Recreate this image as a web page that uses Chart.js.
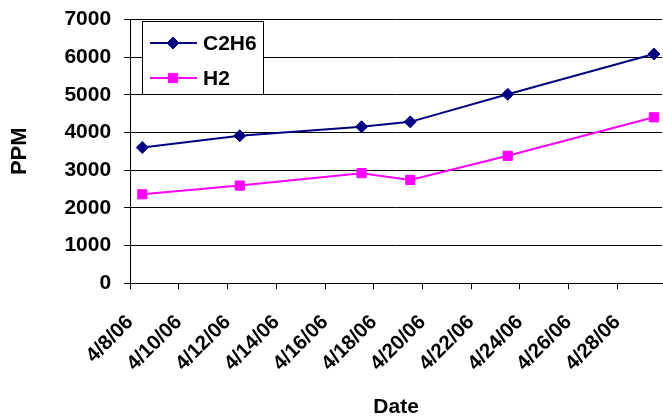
<!DOCTYPE html>
<html><head><meta charset="utf-8">
<script src="https://cdn.jsdelivr.net/npm/chart.js@4.4.1/dist/chart.umd.min.js"></script>
<style>html,body{margin:0;padding:0;background:#fff}#wrap{width:663px;height:418px}</style>
</head><body><div id="wrap"><canvas id="c" width="663" height="418"></canvas></div>
<script>
const sampleDates = ['2006-04-08T12:00','2006-04-12T12:00','2006-04-17T12:00','2006-04-19T12:00','2006-04-23T12:00','2006-04-29T12:00'];
const c2h6 = [3600, 3910, 4150, 4280, 5010, 6080];
const h2 = [2360, 2590, 2920, 2740, 3380, 4400];
const seriesNames = ['C2H6', 'H2'];
const yTicks = [0, 1000, 2000, 3000, 4000, 5000, 6000, 7000];
const axisStart = '2006-04-08T00:00';
const axisEnd = '2006-04-29T20:00';

const DAY = 86400000;
const t0 = Date.parse(axisStart + 'Z');
const toDay = s => (Date.parse(s + 'Z') - t0) / DAY;
const fmt = v => { const d = new Date(t0 + Math.round(v) * DAY); return (d.getUTCMonth()+1) + '/' + d.getUTCDate() + '/' + String(d.getUTCFullYear()).slice(2); };

const FONT = 'Arial, "Liberation Sans", sans-serif';

const legendPlugin = {
  id: 'boxLegend',
  afterDraw(chart) {
    const ctx = chart.ctx;
    const x0 = 142, y0 = 21, w = 121, h = 73;
    ctx.save();
    ctx.fillStyle = '#fff';
    ctx.fillRect(x0, y0, w, h);
    ctx.strokeStyle = '#000'; ctx.lineWidth = 1;
    ctx.strokeRect(x0 + 0.5, y0 + 0.5, w, h);
    chart.data.datasets.forEach((ds, i) => {
      const y = y0 + 22 + i * 35;
      ctx.strokeStyle = ds.borderColor; ctx.lineWidth = ds.borderWidth;
      ctx.beginPath(); ctx.moveTo(x0 + 8, y); ctx.lineTo(x0 + 55, y); ctx.stroke();
      ctx.fillStyle = ds.pointBackgroundColor;
      ctx.strokeStyle = ds.pointBorderColor;
      ctx.lineWidth = 1;
      Chart.helpers.drawPoint(ctx, {pointStyle: ds.pointStyle, rotation: 0, borderWidth: 1, radius: ds.pointRadius}, x0 + 31, y);
      ctx.fillStyle = '#000';
      ctx.font = 'bold 21px ' + FONT;
      ctx.textBaseline = 'middle'; ctx.textAlign = 'left';
      ctx.fillText(ds.label, x0 + 61, y + 1);
    });
    ctx.restore();
  }
};

new Chart(document.getElementById('c'), {
  type: 'line',
  data: {
    datasets: [
      { label: seriesNames[0], data: sampleDates.map((d, i) => ({x: toDay(d), y: c2h6[i]})),
        borderColor: '#000080', backgroundColor: '#000080', borderWidth: 2,
        pointStyle: 'rectRot', pointRadius: 6, pointBackgroundColor: '#000080', pointBorderColor: '#000080', pointBorderWidth: 1 },
      { label: seriesNames[1], data: sampleDates.map((d, i) => ({x: toDay(d), y: h2[i]})),
        borderColor: '#FF00FF', backgroundColor: '#FF00FF', borderWidth: 2,
        pointStyle: 'rect', pointRadius: 6.5, pointBackgroundColor: '#FF00FF', pointBorderColor: '#FF00FF', pointBorderWidth: 1 }
    ]
  },
  options: {
    responsive: false, animation: false,
    layout: { autoPadding: false, padding: { left: 7, right: 1, top: 0, bottom: 0 } },
    plugins: { legend: { display: false }, tooltip: { enabled: false } },
    scales: {
      x: {
        type: 'linear', min: 0, max: toDay(axisEnd),
        afterFit: s => { s.paddingRight = 0; },
        grid: { drawOnChartArea: false, drawTicks: true, tickLength: 6, color: '#000' },
        border: { color: '#000', width: 1 },
        ticks: { stepSize: 2, includeBounds: false, autoSkip: false, maxRotation: 45, minRotation: 45, padding: 21,
          color: '#000', font: { family: FONT, size: 20.5, weight: 'bold' }, callback: v => fmt(v) },
        title: { display: true, text: 'Date', color: '#000', font: { family: FONT, size: 21, weight: 'bold', lineHeight: 1 }, padding: { top: 0, bottom: 0 } }
      },
      y: {
        min: 0, max: 7000,
        afterBuildTicks: s => { s.ticks = yTicks.map(v => ({value: v})); },
        grid: { color: '#000', tickLength: 6, drawTicks: true },
        border: { color: '#000', width: 1 },
        ticks: { padding: 13, color: '#000', font: { family: FONT, size: 21, weight: 'bold', lineHeight: 0.6 }, callback: v => String(v) },
        title: { display: true, text: 'PPM', color: '#000', font: { family: FONT, size: 22, weight: 'bold' }, padding: { top: 0, bottom: 18 } }
      }
    }
  },
  plugins: [legendPlugin]
});
</script></body></html>
